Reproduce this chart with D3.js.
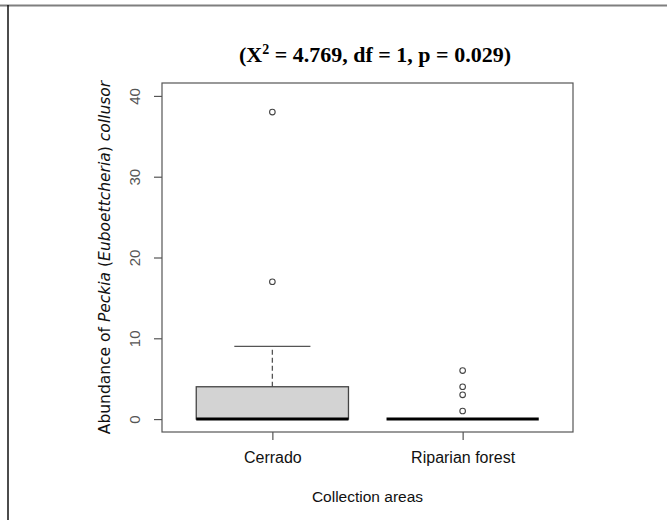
<!DOCTYPE html>
<html>
<head>
<meta charset="utf-8">
<script src="https://cdn.jsdelivr.net/npm/d3@7"></script>
<style>
  html, body { margin: 0; padding: 0; background: #fff; }
  svg { display: block; }
</style>
</head>
<body>
<script>
// ---- data ----
const categories = ["Cerrado", "Riparian forest"];
const q1 = [0, 0];
const medians = [0, 0];
const q3 = [4, 0];
const whiskerLow = [0, 0];
const whiskerHigh = [9, 0];
const outliers = [[17, 38], [1, 3, 4, 6]];
const yTicks = [0, 10, 20, 30, 40];
const titleText = "(X² = 4.769, df = 1, p = 0.029)";
const xTitle = "Collection areas";

const W = 668, H = 520;
const pLeft = 162, pRight = 573, pTop = 83, pBottom = 432;

const svg = d3.select("body").append("svg").attr("width", W).attr("height", H);

// outer frame lines
svg.append("line").attr("x1", 0).attr("x2", 667).attr("y1", 5.5).attr("y2", 5.5)
  .attr("stroke", "#7f7f7f").attr("stroke-width", 2);
svg.append("line").attr("x1", 8).attr("x2", 8).attr("y1", 5).attr("y2", H)
  .attr("stroke", "#111").attr("stroke-width", 1.5);

const x = d3.scaleLinear().domain([0.42, 2.58]).range([pLeft, pRight]);
const y = d3.scaleLinear().domain([-1.6, 41.6]).range([pBottom, pTop]);
const halfBox = 0.4, halfCap = 0.2;

const g = svg.append("g");

categories.forEach((c, i) => {
  const cx = i + 1;
  if (whiskerHigh[i] > q3[i]) {
    g.append("line").attr("x1", x(cx)).attr("x2", x(cx))
      .attr("y1", y(q3[i])).attr("y2", y(whiskerHigh[i]))
      .attr("stroke", "#555").attr("stroke-width", 1.3).attr("stroke-dasharray", "5,3");
    g.append("line").attr("x1", x(cx - halfCap)).attr("x2", x(cx + halfCap))
      .attr("y1", y(whiskerHigh[i])).attr("y2", y(whiskerHigh[i]))
      .attr("stroke", "#555").attr("stroke-width", 1.3);
  }
  if (q3[i] > q1[i]) {
    g.append("rect").attr("x", x(cx - halfBox)).attr("y", y(q3[i]))
      .attr("width", x(cx + halfBox) - x(cx - halfBox))
      .attr("height", y(q1[i]) - y(q3[i]))
      .attr("fill", "#d3d3d3").attr("stroke", "#444").attr("stroke-width", 1.3);
  }
  g.append("line").attr("x1", x(cx - halfBox)).attr("x2", x(cx + halfBox))
    .attr("y1", y(medians[i])).attr("y2", y(medians[i]))
    .attr("stroke", "#000").attr("stroke-width", 3);
  g.selectAll(null).data(outliers[i]).enter().append("circle")
    .attr("cx", x(cx)).attr("cy", d => y(d)).attr("r", 2.8)
    .attr("fill", "none").attr("stroke", "#444").attr("stroke-width", 1.1);
});

// plot box
svg.append("rect").attr("x", pLeft).attr("y", pTop)
  .attr("width", pRight - pLeft).attr("height", pBottom - pTop)
  .attr("fill", "none").attr("stroke", "#555").attr("stroke-width", 1.2);

// y axis
const yAxis = d3.axisLeft(y).tickValues(yTicks).tickSize(8).tickPadding(0).tickFormat(d3.format("d"));
const ya = svg.append("g").attr("transform", `translate(${pLeft},0)`).call(yAxis);
ya.select(".domain").remove();
ya.selectAll(".tick line").attr("stroke", "#555").attr("stroke-width", 1.2);
ya.selectAll(".tick text")
  .attr("x", null).attr("dy", null)
  .attr("transform", "translate(-22,0) rotate(-90)")
  .attr("text-anchor", "middle")
  .attr("y", 0)
  .attr("fill", "#555")
  .style("font-family", "'Liberation Sans', Arial, sans-serif")
  .style("font-size", "15px");

// x axis
const xAxis = d3.axisBottom(x).tickValues([1, 2]).tickSize(8).tickPadding(12)
  .tickFormat((d) => categories[d - 1]);
const xa = svg.append("g").attr("transform", `translate(0,${pBottom})`).call(xAxis);
xa.select(".domain").remove();
xa.selectAll(".tick line").attr("stroke", "#555").attr("stroke-width", 1.2);
xa.selectAll(".tick text").attr("fill", "#111")
  .style("font-family", "'Liberation Sans', Arial, sans-serif")
  .style("font-size", "16px");

// title
const t = svg.append("text").attr("x", 375).attr("y", 62).attr("text-anchor", "middle")
  .style("font-family", "'Liberation Serif', 'Times New Roman', serif")
  .style("font-weight", "bold").style("font-size", "22px").attr("fill", "#000");
t.append("tspan").text("(X");
t.append("tspan").attr("dy", -8).style("font-size", "14px").text("2");
t.append("tspan").attr("dy", 8).text(" = 4.769, df = 1, p = 0.029)");

// x title
svg.append("text").attr("x", (pLeft + pRight) / 2).attr("y", 502).attr("text-anchor", "middle")
  .style("font-family", "'Liberation Sans', Arial, sans-serif").style("font-size", "15.5px")
  .attr("fill", "#111").text(xTitle);

// y title
const yt = svg.append("text")
  .attr("transform", `translate(110,${(pTop + pBottom) / 2}) rotate(-90)`)
  .attr("text-anchor", "middle")
  .style("font-family", "'DejaVu Sans', Verdana, sans-serif").style("font-size", "15.5px")
  .attr("fill", "#111");
yt.append("tspan").text("Abundance of ");
yt.append("tspan").style("font-style", "italic").text("Peckia");
yt.append("tspan").text(" (");
yt.append("tspan").style("font-style", "italic").text("Euboettcheria");
yt.append("tspan").text(") ");
yt.append("tspan").style("font-style", "italic").text("collusor");
</script>
</body>
</html>
